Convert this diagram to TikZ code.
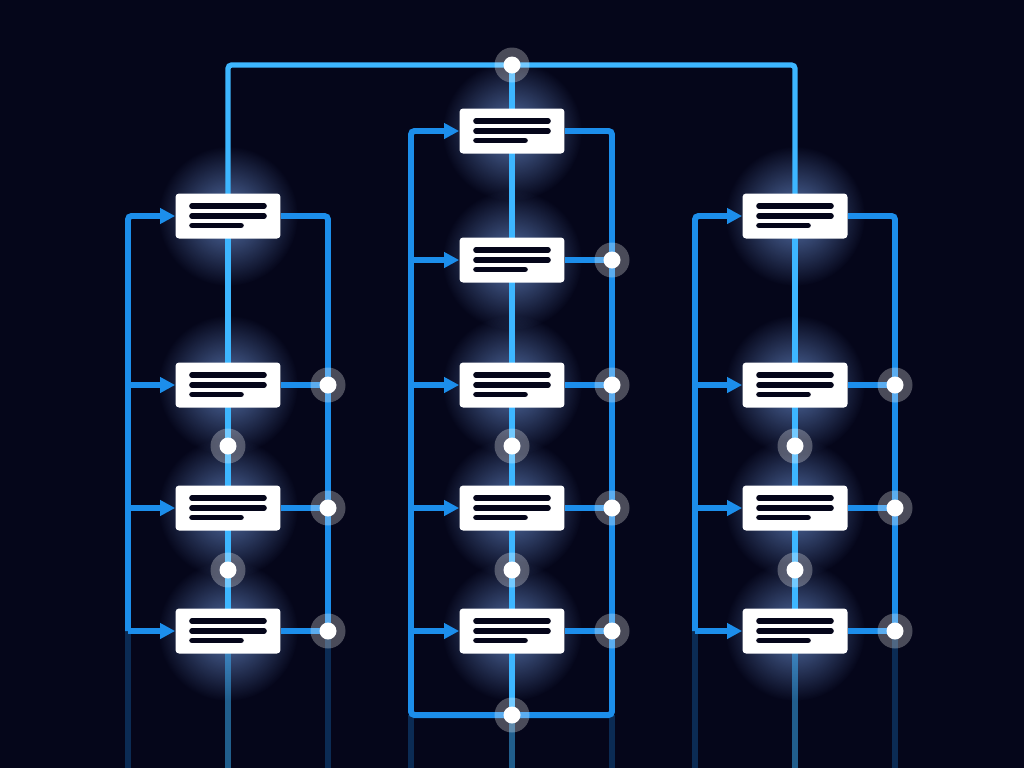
\documentclass[tikz,border=0pt]{standalone}
\usetikzlibrary{arrows.meta,fadings}

\definecolor{night}{HTML}{05061A}
\definecolor{wire}{HTML}{1C8EEB}
\definecolor{spine}{HTML}{3DB6FF}
\definecolor{halo}{HTML}{7FAAF5}
\tikzfading[name=glowfade, inner color=transparent!35, outer color=transparent!100]

\pgfdeclarelayer{back}
\pgfdeclarelayer{glow}
\pgfdeclarelayer{wires}
\pgfsetlayers{back,glow,wires,main}

\begin{document}
\begin{tikzpicture}[
    x=0.02cm, y=-0.02cm,
    card/.style={fill=white, rounded corners=2pt, minimum width=2.1cm,
      minimum height=0.9cm, inner sep=0pt,
      path picture={
        \draw[night, line width=3.2pt, line cap=round]
          ([xshift=-0.72cm,yshift=0.2cm]path picture bounding box.center) -- ++(1.44cm,0)
          ([xshift=-0.72cm]path picture bounding box.center) -- ++(1.44cm,0)
          ([xshift=-0.72cm,yshift=-0.19cm]path picture bounding box.center) -- ++(0.98cm,0);
      }},
    joint/.style={circle, minimum size=0.7cm, inner sep=0pt, fill=white, fill opacity=0.28,
      path picture={\fill[white, fill opacity=1] (path picture bounding box.center) circle (0.17cm);}},
    rail/.style={draw=wire, line width=3.4pt, rounded corners=2pt},
    feed/.style={rail, -{Triangle[length=0.3cm,width=0.3cm]}},
    spinewire/.style={draw=spine, line width=3pt, rounded corners=2pt},
    tail/.style={draw=wire, line width=3.4pt, draw opacity=0.28}
  ]
  \begin{pgfonlayer}{back}
    \fill[night] (0,0) rectangle (1024,768);
  \end{pgfonlayer}
  \useasboundingbox (0,0) rectangle (1024,768);
  \coordinate (bottom) at (0,768);

  % Left column
  \node[card] (L1) at (228,216) {};
  \node[card] (L2) at (228,385) {};
  \node[card] (L3) at (228,508) {};
  \node[card] (L4) at (228,631) {};
  \node[joint] (jL2) at (328,385) {};
  \node[joint] (jL3) at (328,508) {};
  \node[joint] (jL4) at (328,631) {};
  \node[joint] (sL23) at (228,446) {};
  \node[joint] (sL34) at (228,570) {};
  \coordinate (lb) at (128,631);

  % Middle column
  \node[joint] (top) at (512,65) {};
  \node[card] (M1) at (512,131) {};
  \node[card] (M2) at (512,260) {};
  \node[card] (M3) at (512,385) {};
  \node[card] (M4) at (512,508) {};
  \node[card] (M5) at (512,631) {};
  \node[joint] (jM2) at (612,260) {};
  \node[joint] (jM3) at (612,385) {};
  \node[joint] (jM4) at (612,508) {};
  \node[joint] (jM5) at (612,631) {};
  \node[joint] (sM34) at (512,446) {};
  \node[joint] (sM45) at (512,570) {};
  \node[joint] (bM) at (512,715) {};
  \coordinate (mlb) at (411,715);
  \coordinate (mrb) at (612,715);

  % Right column
  \node[card] (R1) at (795,216) {};
  \node[card] (R2) at (795,385) {};
  \node[card] (R3) at (795,508) {};
  \node[card] (R4) at (795,631) {};
  \node[joint] (jR2) at (895,385) {};
  \node[joint] (jR3) at (895,508) {};
  \node[joint] (jR4) at (895,631) {};
  \node[joint] (sR23) at (795,446) {};
  \node[joint] (sR34) at (795,570) {};
  \coordinate (rb) at (695,631);

  % glow behind the cards
  \begin{pgfonlayer}{glow}
    \fill[halo, path fading=glowfade] (L1) circle (70);
    \fill[halo, path fading=glowfade] (L2) circle (70);
    \fill[halo, path fading=glowfade] (L3) circle (70);
    \fill[halo, path fading=glowfade] (L4) circle (70);
    \fill[halo, path fading=glowfade] (M1) circle (70);
    \fill[halo, path fading=glowfade] (M2) circle (70);
    \fill[halo, path fading=glowfade] (M3) circle (70);
    \fill[halo, path fading=glowfade] (M4) circle (70);
    \fill[halo, path fading=glowfade] (M5) circle (70);
    \fill[halo, path fading=glowfade] (R1) circle (70);
    \fill[halo, path fading=glowfade] (R2) circle (70);
    \fill[halo, path fading=glowfade] (R3) circle (70);
    \fill[halo, path fading=glowfade] (R4) circle (70);
  \end{pgfonlayer}

  \begin{pgfonlayer}{wires}
    % spines
    \draw[spinewire] (L1.center) |- (top.center) -| (R1.center);
    \draw[spinewire] (top.center) -- (bM.center);
    \draw[spinewire] (L1.center) -- (L4.center);
    \draw[spinewire] (R1.center) -- (R4.center);
    \draw[spine, line width=3pt, draw opacity=0.5] (L4.center) -- (L4 |- bottom);
    \draw[spine, line width=3pt, draw opacity=0.5] (R4.center) -- (R4 |- bottom);
    \draw[spine, line width=3pt, draw opacity=0.5] (bM.center) -- (bM |- bottom);

    % left rails
    \draw[rail] (L1.east) -| (jL4.center);
    \draw[rail] (L2.east) -- (jL2.center);
    \draw[rail] (L3.east) -- (jL3.center);
    \draw[rail] (L4.east) -- (jL4.center);
    \draw[feed] (lb) |- (L1.west);
    \draw[feed] (lb |- L2) -- (L2.west);
    \draw[feed] (lb |- L3) -- (L3.west);
    \draw[feed] (lb) -- (L4.west);
    \draw[tail] (lb) -- (lb |- bottom);
    \draw[tail] (jL4.center) -- (jL4 |- bottom);

    % middle rails
    \draw[feed] (M1.east) -| (mrb) -- (mlb) |- (M1.west);
    \draw[rail] (M2.east) -- (jM2.center);
    \draw[rail] (M3.east) -- (jM3.center);
    \draw[rail] (M4.east) -- (jM4.center);
    \draw[rail] (M5.east) -- (jM5.center);
    \draw[feed] (mlb |- M2) -- (M2.west);
    \draw[feed] (mlb |- M3) -- (M3.west);
    \draw[feed] (mlb |- M4) -- (M4.west);
    \draw[feed] (mlb |- M5) -- (M5.west);
    \draw[tail] (mlb) -- (mlb |- bottom);
    \draw[tail] (mrb) -- (mrb |- bottom);

    % right rails
    \draw[rail] (R1.east) -| (jR4.center);
    \draw[rail] (R2.east) -- (jR2.center);
    \draw[rail] (R3.east) -- (jR3.center);
    \draw[rail] (R4.east) -- (jR4.center);
    \draw[feed] (rb) |- (R1.west);
    \draw[feed] (rb |- R2) -- (R2.west);
    \draw[feed] (rb |- R3) -- (R3.west);
    \draw[feed] (rb) -- (R4.west);
    \draw[tail] (rb) -- (rb |- bottom);
    \draw[tail] (jR4.center) -- (jR4 |- bottom);
  \end{pgfonlayer}

\end{tikzpicture}
\end{document}
